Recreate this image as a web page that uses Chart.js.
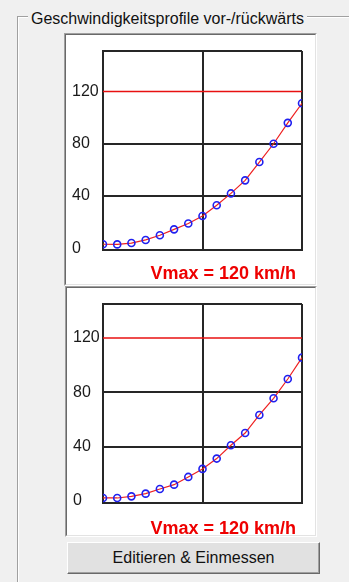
<!DOCTYPE html>
<html>
<head>
<meta charset="utf-8">
<script src="https://cdn.jsdelivr.net/npm/chart.js@4/dist/chart.umd.min.js"></script>
<style>
  body { margin: 0; background: #f0f0f0; font-family: 'Liberation Sans', Arial, sans-serif; }
  #root { position: relative; width: 349px; height: 582px; overflow: hidden; }
  .group { position: absolute; left: 17px; top: 16px; width: 340px; height: 600px;
           border-left: 1px solid #a0a0a0; border-top: 1px solid #a0a0a0;
           box-shadow: inset 1px 1px 0 #fff; }
  .group-title { position: absolute; left: 28px; top: 10px; padding: 0 3px; background: #f0f0f0;
                 font-size: 16px; line-height: 18px; color: #111; white-space: nowrap; }
  .panel { position: absolute; background: #fff;
           border: 1px solid; border-color: #a0a0a0 #fff #fff #a0a0a0; }
  .panel .inner { border: 1px solid; border-color: #696969 #e3e3e3 #e3e3e3 #696969; }
  .panel canvas { display: block; }
  .btn { position: absolute; left: 67px; top: 542px; width: 251px; height: 30px;
         background: #e1e1e1; border: 1px solid; border-color: #fff #696969 #696969 #fff;
         box-shadow: inset -1px -1px 0 #a0a0a0;
         font-size: 16px; line-height: 30px; text-align: center; color: #111; }
</style>
</head>
<body>
<div id="root">
  <div class="group"></div>
  <div class="group-title">Geschwindigkeitsprofile vor-/rückwärts</div>
  <div class="panel" style="left:64px; top:33px;">
    <div class="inner"><canvas id="fwdChart" width="249" height="249"></canvas></div>
  </div>
  <div class="panel" style="left:65px; top:286px;">
    <div class="inner"><canvas id="revChart" width="248" height="247"></canvas></div>
  </div>
  <div class="btn">Editieren &amp; Einmessen</div>
</div>
<script>
// speed steps and measured speeds (km/h)
const steps = [0, 1, 2, 3, 4, 5, 6, 7, 8, 9, 10, 11, 12, 13, 14];
const forwardSpeeds = [3.1, 3.0, 4.0, 6.4, 10, 14.5, 19, 24.7, 32.9, 42, 52, 66, 80, 96, 111];
const reverseSpeeds = [2.2, 2.2, 3.4, 5.4, 8.8, 12, 17.7, 23.6, 31.2, 41, 50, 63.3, 75.6, 89.8, 105.5];
const yTicks = [0, 40, 80, 120];
const vmax = 120;

const gridColor = '#262626';
const fontFamily = "'Liberation Sans', Arial, sans-serif";

// red "Vmax = ..." caption under the plot, right aligned
const vmaxLabel = {
  id: 'vmaxLabel',
  afterDraw(chart, args, opts) {
    const { ctx, chartArea } = chart;
    ctx.save();
    ctx.font = 'bold 18px ' + fontFamily;
    ctx.fillStyle = '#ee0000';
    ctx.textAlign = 'right';
    ctx.textBaseline = 'alphabetic';
    ctx.fillText('Vmax = ' + vmax + ' km/h', chartArea.right - 6, chartArea.bottom + opts.offset);
    ctx.restore();
  }
};

function makeChart(id, speeds, yMin, yMax, pad) {
  const ctx = document.getElementById(id).getContext('2d');
  return new Chart(ctx, {
    type: 'line',
    data: {
      datasets: [
        {
          // speed limit line
          data: [{ x: steps[0], y: vmax }, { x: steps[steps.length - 1], y: vmax }],
          borderColor: '#e81010',
          borderWidth: 1.5,
          pointRadius: 0
        },
        {
          data: steps.map((s, i) => ({ x: s, y: speeds[i] })),
          borderColor: '#ee2020',
          borderWidth: 1.2,
          tension: 0,
          pointRadius: 3.5,
          pointBorderWidth: 1.6,
          pointBorderColor: '#2020f0',
          pointBackgroundColor: 'rgba(0,0,0,0)'
        }
      ]
    },
    plugins: [vmaxLabel],
    options: {
      responsive: false,
      animation: false,
      layout: { padding: { left: 6, right: 13, top: pad.top, bottom: pad.bottom } },
      plugins: {
        legend: { display: false },
        tooltip: { enabled: false },
        vmaxLabel: { offset: pad.textOffset }
      },
      scales: {
        x: {
          type: 'linear',
          min: steps[0],
          max: steps[steps.length - 1],
          afterBuildTicks: scale => {
            scale.ticks = [steps[0], steps[7], steps[14]].map(v => ({ value: v }));
          },
          afterFit: scale => { scale.height = 0; },
          ticks: { display: false },
          grid: { color: gridColor, lineWidth: 2, drawTicks: false },
          border: { color: gridColor, width: 2 }
        },
        y: {
          min: yMin,
          max: yMax,
          afterBuildTicks: scale => {
            scale.ticks = yTicks.concat([yMax]).map(v => ({ value: v }));
          },
          afterFit: scale => { scale.width = pad.left - 6; },
          ticks: {
            crossAlign: 'far',
            color: '#1a1a1a',
            font: { family: fontFamily, size: 16 },
            callback: v => (v === yMax ? '' : v)
          },
          grid: {
            drawTicks: false,
            lineWidth: 2,
            color: c => (c.tick && (c.tick.value === 0 || c.tick.value === vmax)) ? 'rgba(0,0,0,0)' : gridColor
          },
          border: { color: gridColor, width: 2 }
        }
      }
    }
  });
}

makeChart('fwdChart', forwardSpeeds, -1.3, 151, { left: 37, top: 16, bottom: 34, textOffset: 29 });
makeChart('revChart', reverseSpeeds, -1.5, 145, { left: 36, top: 16, bottom: 32, textOffset: 31 });
</script>
</body>
</html>
